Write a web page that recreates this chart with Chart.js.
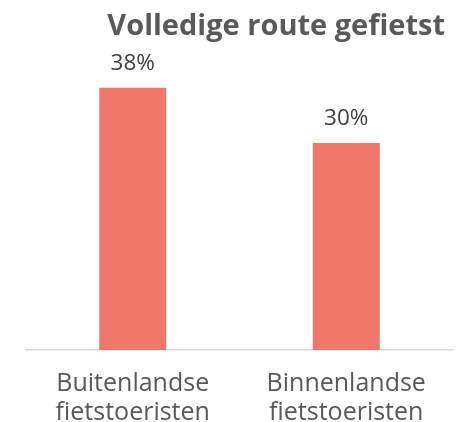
<!DOCTYPE html>
<html>
<head>
<meta charset="utf-8">
<script src="https://cdn.jsdelivr.net/npm/chart.js@4.4.0/dist/chart.umd.min.js"></script>
<style>
html,body{margin:0;padding:0;background:#fff;}
#wrap{width:459px;height:422px;position:relative;}
</style>
</head>
<body>
<div id="wrap"><canvas id="c" width="459" height="422"></canvas></div>
<script>
const categories = [["Buitenlandse","fietstoeristen"],["Binnenlandse","fietstoeristen"]];
const values = [38, 30];
const titleText = "Volledige route gefietst";

const valueLabels = {
  id: 'valueLabels',
  afterDatasetsDraw(chart) {
    const ctx = chart.ctx;
    const meta = chart.getDatasetMeta(0);
    ctx.save();
    ctx.font = '22.5px "Open Sans"';
    ctx.fillStyle = '#404040';
    ctx.textAlign = 'center';
    ctx.textBaseline = 'alphabetic';
    meta.data.forEach((bar, i) => {
      ctx.fillText(values[i] + '%', bar.x, bar.y - 18);
    });
    ctx.restore();
  }
};
const titleShift = {
  id: 'titleShift',
  afterLayout(chart) {
    if (chart.titleBlock) { chart.titleBlock.right -= 8; }
  }
};

new Chart(document.getElementById('c'), {
  type: 'bar',
  data: {
    labels: categories,
    datasets: [{
      data: values,
      backgroundColor: '#F0786A',
      categoryPercentage: 1,
      barPercentage: 0.314
    }]
  },
  options: {
    responsive: false,
    animation: false,
    layout: { padding: { left: 26, right: 6, top: 0, bottom: -24.5 } },
    plugins: {
      legend: { display: false },
      tooltip: { enabled: false },
      title: {
        display: true,
        text: titleText,
        align: 'end',
        color: '#595959',
        font: { family: 'Open Sans', size: 29, weight: 'bold', lineHeight: 1.2 },
        padding: { top: 9, bottom: 30.2 }
      }
    },
    scales: {
      x: {
        grid: { display: false, drawTicks: false },
        border: { display: true, color: '#D9D9D9', width: 1.5 },
        ticks: {
          color: '#595959',
          padding: 19.5,
          font: { family: 'Open Sans', size: 25, lineHeight: 1.15 },
          maxRotation: 0
        }
      },
      y: {
        display: false,
        min: 0,
        max: 40
      }
    }
  },
  plugins: [valueLabels, titleShift]
});
</script>
</body>
</html>
